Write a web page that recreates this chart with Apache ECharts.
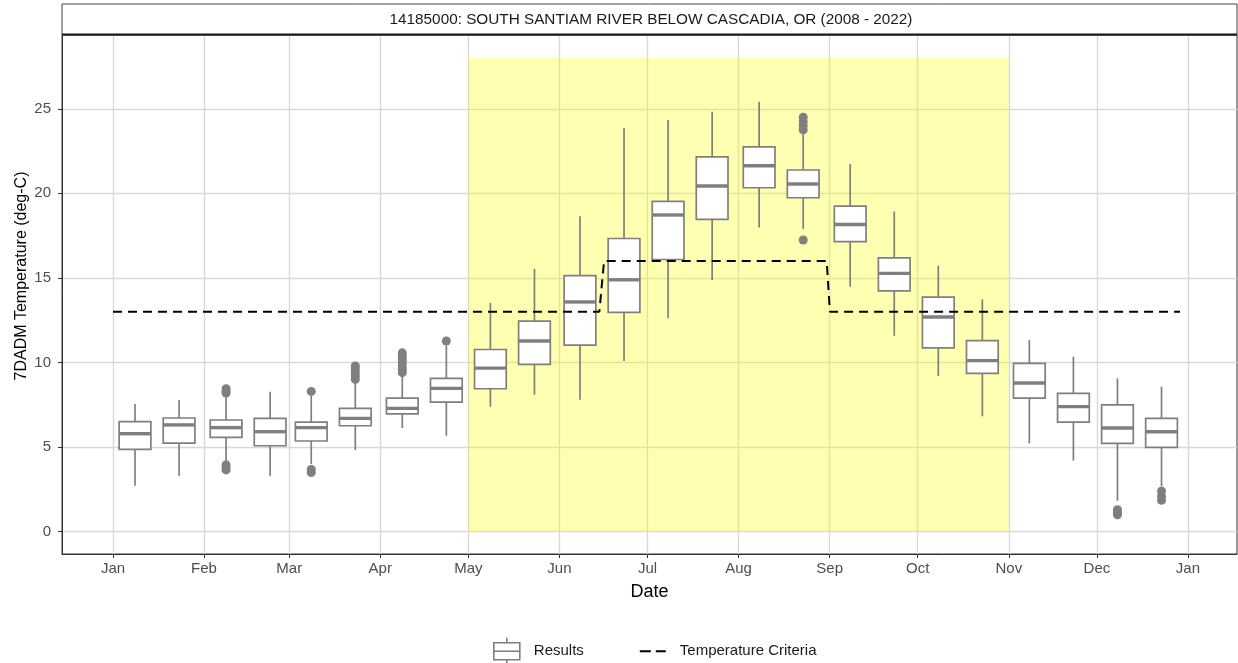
<!DOCTYPE html>
<html>
<head>
<meta charset="utf-8">
<script src="https://cdn.jsdelivr.net/npm/echarts@6/dist/echarts.min.js"></script>
<style>
html,body{margin:0;padding:0;background:#fff;}
#chart{width:1238px;height:663px;}
</style>
</head>
<body>
<div id="chart"></div>
<script>
// ---- data (x values are day of year, leap year) ----
const stripTitle = '14185000: SOUTH SANTIAM RIVER BELOW CASCADIA, OR (2008 - 2022)';
const monthTickDays = [0, 31, 60, 91, 121, 152, 182, 213, 244, 274, 305, 335, 366];
const monthTickLabels = ['Jan','Feb','Mar','Apr','May','Jun','Jul','Aug','Sep','Oct','Nov','Dec','Jan'];
const yTickValues = [0, 5, 10, 15, 20, 25];

const boxDay = [7.5, 22.5, 38.5, 53.5, 67.5, 82.5, 98.5, 113.5, 128.5, 143.5, 159, 174,
                189, 204, 220, 235, 251, 266, 281, 296, 312, 327, 342, 357];
const whiskerLow  = [2.72, 3.31, 4.2, 3.31, 4.0, 4.83, 6.13, 5.67, 7.39, 8.1, 7.8, 10.09,
                     12.61, 14.88, 17.98, 17.89, 14.48, 11.58, 9.2, 6.82, 5.22, 4.2, 1.83, 2.7];
const q1          = [4.86, 5.24, 5.57, 5.08, 5.36, 6.26, 6.96, 7.66, 8.45, 9.89, 11.03, 12.96,
                     16.09, 18.46, 20.33, 19.74, 17.14, 14.24, 10.86, 9.36, 7.9, 6.48, 5.22, 4.98];
const median      = [5.79, 6.31, 6.15, 5.91, 6.15, 6.7, 7.29, 8.47, 9.67, 11.27, 13.58, 14.89,
                     18.72, 20.43, 21.63, 20.55, 18.16, 15.27, 12.69, 10.11, 8.79, 7.39, 6.13, 5.91];
const q3          = [6.5, 6.72, 6.6, 6.7, 6.48, 7.29, 7.9, 9.06, 10.77, 12.45, 15.13, 17.33,
                     19.52, 22.15, 22.75, 21.38, 19.25, 16.18, 13.87, 11.29, 9.95, 8.17, 7.49, 6.7];
const whiskerHigh = [7.55, 7.78, 7.94, 8.27, 8.04, 8.85, 9.25, 11.0, 13.52, 15.53, 18.64, 23.86,
                     24.33, 24.82, 25.41, 23.5, 21.73, 18.93, 15.72, 13.73, 11.33, 10.34, 9.06, 8.57];

const outlierDay  = [38.5, 38.5, 38.5, 38.5, 38.5, 38.5,
                     67.5, 67.5, 67.5,
                     82.5, 82.5, 82.5, 82.5, 82.5,
                     98.5, 98.5, 98.5, 98.5, 98.5, 98.5, 98.5,
                     113.5,
                     235, 235, 235, 235, 235,
                     342, 342, 342,
                     357, 357, 357];
const outlierTemp = [8.2, 8.3, 8.45, 3.65, 3.8, 3.95,
                     8.29, 3.5, 3.68,
                     9.0, 9.2, 9.4, 9.6, 9.8,
                     9.4, 9.6, 9.8, 10.0, 10.2, 10.4, 10.57,
                     11.27,
                     23.75, 24.0, 24.25, 24.5, 17.24,
                     1.0, 1.15, 1.3,
                     1.85, 2.1, 2.4];

const criteriaDay  = [0, 165.6, 167.2, 243.0, 244.1, 363.3];
const criteriaTemp = [13, 13, 16, 16, 13, 13];

const shadeDays  = [121, 305];
const shadeTemps = [0, 28];

// ---- build ----
const FONT = "'Liberation Sans', Arial, sans-serif";
const BOX_COLOR = '#7f7f7f';
const BOX_WIDTH_DAYS = 10.8;

const boxData = boxDay.map((d, i) => [d, whiskerLow[i], q1[i], median[i], q3[i], whiskerHigh[i]]);
const outlierData = outlierDay.map((d, i) => [d, outlierTemp[i]]);
const criteriaData = criteriaDay.map((d, i) => [d, criteriaTemp[i]]);
const shadeData = [[shadeDays[0], shadeTemps[0], shadeDays[1], shadeTemps[1]]];

function renderBox(params, api) {
  const x = api.value(0);
  const lo = api.coord([x, api.value(1)]);
  const b1 = api.coord([x, api.value(2)]);
  const md = api.coord([x, api.value(3)]);
  const b3 = api.coord([x, api.value(4)]);
  const hi = api.coord([x, api.value(5)]);
  const w = api.size([BOX_WIDTH_DAYS, 0])[0];
  const ls = { stroke: BOX_COLOR, lineWidth: 1.7 };
  return {
    type: 'group',
    children: [
      { type: 'line', shape: { x1: lo[0], y1: lo[1], x2: b1[0], y2: b1[1] }, style: ls },
      { type: 'line', shape: { x1: b3[0], y1: b3[1], x2: hi[0], y2: hi[1] }, style: ls },
      { type: 'rect', shape: { x: b3[0] - w / 2, y: b3[1], width: w, height: b1[1] - b3[1] },
        style: { fill: '#ffffff', stroke: BOX_COLOR, lineWidth: 1.7 } },
      { type: 'line', shape: { x1: md[0] - w / 2, y1: md[1], x2: md[0] + w / 2, y2: md[1] },
        style: { stroke: BOX_COLOR, lineWidth: 3.4 } }
    ]
  };
}

function renderShade(params, api) {
  const p0 = api.coord([api.value(0), api.value(1)]);
  const p1 = api.coord([api.value(2), api.value(3)]);
  return {
    type: 'rect',
    shape: { x: p0[0], y: p1[1], width: p1[0] - p0[0], height: p0[1] - p1[1] },
    style: { fill: 'rgba(255,255,0,0.3)' }
  };
}

const chart = echarts.init(document.getElementById('chart'), null, { renderer: 'canvas' });
chart.setOption({
  backgroundColor: '#ffffff',
  animation: false,
  textStyle: { fontFamily: FONT },
  grid: { left: 62, right: 1, top: 35, bottom: 109, show: true, borderColor: '#333333', borderWidth: 1, backgroundColor: 'transparent' },
  graphic: [
    { type: 'rect', shape: { x: 62, y: 4, width: 1175, height: 31 },
      style: { fill: '#ffffff', stroke: '#444444', lineWidth: 1 }, z: 10 },
    { type: 'line', shape: { x1: 62, y1: 34.5, x2: 1237, y2: 34.5 },
      style: { stroke: '#1a1a1a', lineWidth: 2 }, z: 11 },
    { type: 'text', x: 651, y: 19.5, z: 12,
      style: { text: stripTitle, fontFamily: FONT, fontSize: 15.3, fill: '#1a1a1a',
               textAlign: 'center', textVerticalAlign: 'middle' } }
  ],
  legend: {
    left: 493, top: 637, padding: 0, itemWidth: 26, itemHeight: 28, itemGap: 55,
    textStyle: { fontFamily: FONT, fontSize: 15, color: '#1a1a1a', padding: [0, 0, 0, 9] },
    data: [
      { name: 'Results', icon: 'path://M13,0 V5 M0,5 H26 V22 H0 Z M0,13.5 H26 M13,22 V27',
        itemStyle: { color: '#ffffff', borderColor: BOX_COLOR, borderWidth: 1.6 } },
      { name: 'Temperature Criteria', itemStyle: { opacity: 0 },
        lineStyle: { color: '#000000', width: 2, type: [11, 5], opacity: 1 } }
    ]
  },
  xAxis: {
    type: 'value', min: -17.36, max: 382.7,
    name: 'Date', nameLocation: 'middle', nameGap: 29, nameMoveOverlap: false,
    nameTextStyle: { fontFamily: FONT, fontSize: 18, color: '#000000' },
    axisLine: { show: true, onZero: false, lineStyle: { color: '#333333', width: 1 } },
    axisTick: { show: true, length: 4, customValues: monthTickDays, lineStyle: { color: '#333333', width: 1 } },
    axisLabel: { customValues: monthTickDays, margin: 7, fontFamily: FONT, fontSize: 15, color: '#4d4d4d',
      formatter: v => monthTickLabels[monthTickDays.indexOf(v)] },
    splitLine: { show: true, lineStyle: { color: '#d9d9d9', width: 1.4 } }
  },
  yAxis: {
    type: 'value', min: -1.32, max: 29.36,
    name: '7DADM Temperature (deg-C)', nameLocation: 'middle', nameGap: 32, nameRotate: 90, nameMoveOverlap: false,
    nameTextStyle: { fontFamily: FONT, fontSize: 16, color: '#000000', padding: [0, 0, 0, 37] },
    axisLine: { show: true, onZero: false, lineStyle: { color: '#333333', width: 1 } },
    axisTick: { show: true, length: 4, customValues: yTickValues, lineStyle: { color: '#333333', width: 1 } },
    axisLabel: { customValues: yTickValues, margin: 11, fontFamily: FONT, fontSize: 15, color: '#4d4d4d' },
    splitLine: { show: true, lineStyle: { color: '#d9d9d9', width: 1.4 } }
  },
  series: [
    { name: 'shade', type: 'custom', renderItem: renderShade, data: shadeData, z: 1, silent: true,
      encode: { x: [0, 2], y: [1, 3] } },
    { name: 'Results', type: 'custom', renderItem: renderBox, data: boxData, z: 3,
      itemStyle: { color: '#ffffff', borderColor: BOX_COLOR },
      encode: { x: 0, y: [1, 2, 3, 4, 5] } },
    { name: 'Results', type: 'scatter', data: outlierData, symbol: 'circle', symbolSize: 9, z: 4,
      itemStyle: { color: BOX_COLOR, opacity: 1 } },
    { name: 'Temperature Criteria', type: 'line', data: criteriaData, showSymbol: false, symbol: 'none', z: 5,
      lineStyle: { color: '#000000', width: 2, type: [9, 6] }, itemStyle: { color: '#000000' } }
  ]
});
</script>
</body>
</html>
